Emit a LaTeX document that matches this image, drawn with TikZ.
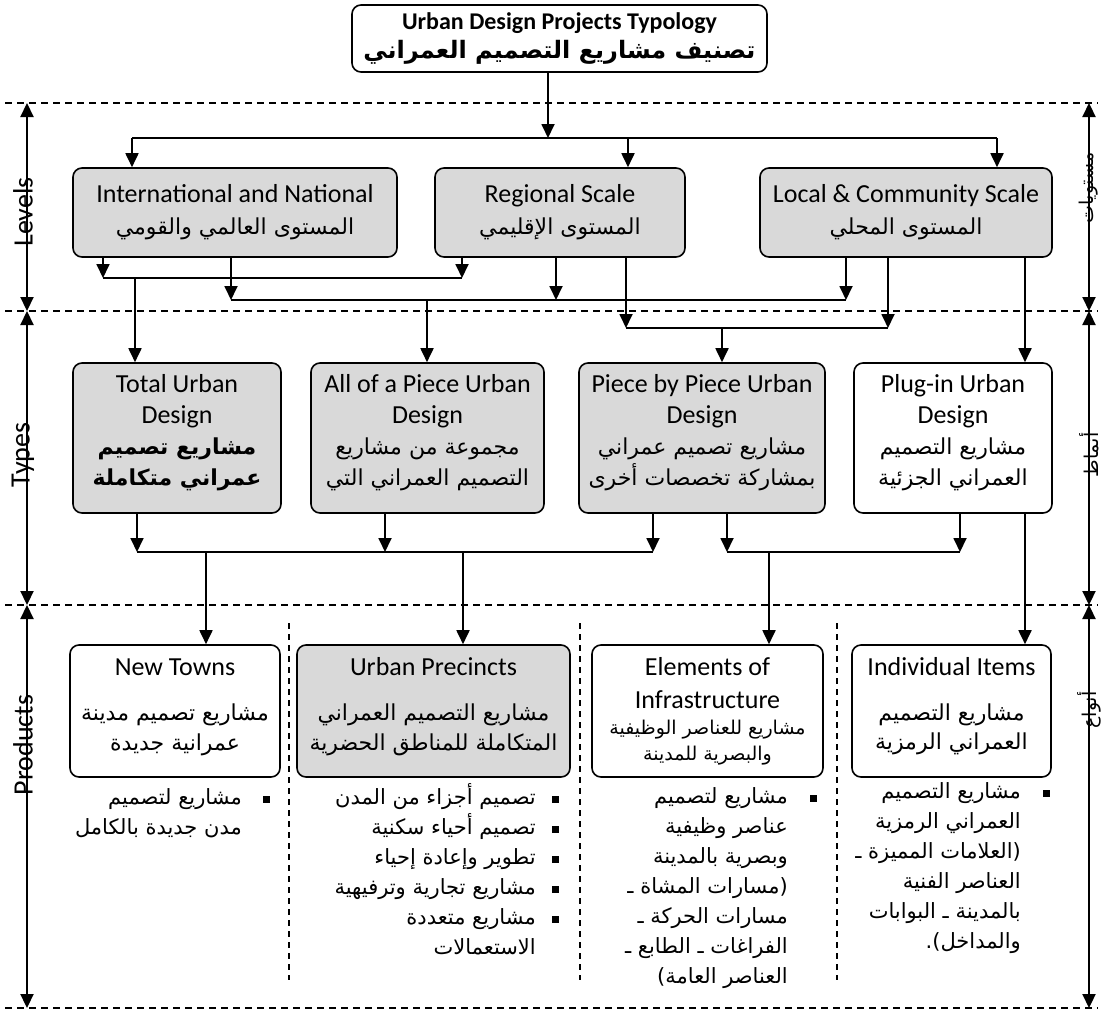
\documentclass[tikz,border=0pt]{standalone}
\usepackage{fontspec}
\setmainfont{Carlito}
\newfontfamily\arfont[Script=Arabic]{DejaVu Sans}
\TeXXeTstate=1
\usetikzlibrary{arrows.meta}
\definecolor{boxgray}{RGB}{217,217,217}
\newcommand\AR[1]{{\arfont\beginR #1\endR}}
\begin{document}
\begin{tikzpicture}[x=1pt,y=-1pt,
  box/.style={draw, line width=1.6pt, rounded corners=9pt, align=center, inner sep=0pt, font=\fontsize{26}{32}\selectfont},
  gbox/.style={box, fill=boxgray},
  arr/.style={line width=1.8pt, -{Triangle[width=13pt,length=14pt]}},
  conn/.style={line width=1.5pt},
  sep/.style={line width=1.4pt, dash pattern=on 7pt off 5pt},
  divl/.style={line width=1.3pt, dash pattern=on 6pt off 5pt},
  dbl/.style={line width=2.2pt, {Triangle[width=13pt,length=14pt]}-{Triangle[width=13pt,length=14pt]}},
  ttxt/.style={align=center, inner sep=0pt, font=\fontsize{26}{31}\selectfont},
  ptxt/.style={inner sep=0pt, font=\fontsize{26}{32}\selectfont},
  pa/.style={inner sep=0pt, font=\fontsize{22}{30}\selectfont, text height=15pt, text depth=4pt},
  bl/.style={anchor=east, inner sep=0pt, font=\fontsize{21}{30}\selectfont, text height=15pt, text depth=4pt},
  bul/.style={fill, minimum size=7pt, inner sep=0pt},
  side/.style={rotate=90, inner sep=0pt, font=\fontsize{28}{30}\selectfont},
  aside/.style={rotate=90, inner sep=0pt, font=\fontsize{19}{22}\selectfont}
]
\useasboundingbox (0,0) rectangle (1103,1012);

% separators
\draw[sep] (5,103) -- (1098,103);
\draw[sep] (5,311) -- (1098,311);
\draw[sep] (5,605) -- (1098,605);
\draw[sep] (5,1008) -- (1098,1008);

% side arrows
\draw[dbl] (27,103) -- (27,311);
\draw[dbl] (27,311) -- (27,605);
\draw[dbl] (27,605) -- (27,1008);
\draw[dbl] (1089,103) -- (1089,311);
\draw[dbl] (1089,311) -- (1089,605);
\draw[dbl] (1089,605) -- (1089,1008);
\node[side] (lLev) at (23,212) {Levels};
\node[side] (lTyp) at (23,455) {Types};
\node[side] (lPro) at (23,745) {Products};
\node[aside] (rLev) at (1089,188) {\AR{مستويات}};
\node[aside] (rTyp) at (1089,455) {\AR{أنماط}};
\node[aside] (rPro) at (1089,710) {\AR{أنواع}};

% title
\node[box, minimum width=415pt, minimum height=67pt, font=\bfseries\fontsize{24}{29}\selectfont] (title) at (559.5,38.5)
  {Urban Design Projects Typology\\ \AR{تصنيف مشاريع التصميم العمراني}};

% levels
\node[gbox, minimum width=324pt, minimum height=89pt] (intl) at (235,212.5)
  {International and National\\ \fontsize{22}{32}\selectfont\AR{المستوى العالمي والقومي}};
\node[gbox, minimum width=250pt, minimum height=89pt] (reg) at (560,212.5)
  {Regional Scale\\ \fontsize{22}{32}\selectfont\AR{المستوى الإقليمي}};
\node[gbox, minimum width=292pt, minimum height=89pt] (loc) at (906,212.5)
  {Local \& Community Scale\\ \fontsize{22}{32}\selectfont\AR{المستوى المحلي}};

% types
\node[gbox, minimum width=208pt, minimum height=150pt] (total) at (177,438) {};
\node[gbox, minimum width=233pt, minimum height=150pt] (allp) at (427.5,438) {};
\node[gbox, minimum width=246pt, minimum height=150pt] (piece) at (702,438) {};
\node[box, minimum width=198pt, minimum height=150pt] (plug) at (953,438) {};

\node[ttxt] (totalT) at (177,433)
  {Total Urban\\ Design\\ \fontsize{22}{31}\selectfont\bfseries\AR{مشاريع تصميم}\\ \fontsize{22}{31}\selectfont\bfseries\AR{عمراني متكاملة}};
\node[ttxt] (allpT) at (427.5,433)
  {All of a Piece Urban\\ Design\\ \fontsize{22}{31}\selectfont\AR{مجموعة من مشاريع}\\ \fontsize{22}{31}\selectfont\AR{التصميم العمراني التي}};
\node[ttxt] (pieceT) at (702,433)
  {Piece by Piece Urban\\ Design\\ \fontsize{22}{31}\selectfont\AR{مشاريع تصميم عمراني}\\ \fontsize{22}{31}\selectfont\AR{بمشاركة تخصصات أخرى}};
\node[ttxt] (plugT) at (953,433)
  {Plug-in Urban\\ Design\\ \fontsize{22}{31}\selectfont\AR{مشاريع التصميم}\\ \fontsize{22}{31}\selectfont\AR{العمراني  الجزئية}};

% products
\node[box, minimum width=210pt, minimum height=132pt] (nt) at (175,711) {};
\node[gbox, minimum width=273pt, minimum height=132pt] (prec) at (433.5,711) {};
\node[box, minimum width=231pt, minimum height=132pt] (elem) at (707.5,711) {};
\node[box, minimum width=199pt, minimum height=132pt] (ind) at (951.5,711) {};

\node[ptxt] (ntE) at (175,667) {New Towns};
\node[pa] (ntA1) at (175,715) {\AR{مشاريع تصميم مدينة}};
\node[pa] (ntA2) at (175,745) {\AR{عمرانية جديدة}};
\node[ptxt] (precE) at (433.5,667) {Urban Precincts};
\node[pa] (precA1) at (433.5,715) {\AR{مشاريع التصميم العمراني}};
\node[pa] (precA2) at (433.5,745) {\AR{المتكاملة للمناطق الحضرية}};
\node[ptxt] (elemE1) at (707.5,667) {Elements of};
\node[ptxt] (elemE2) at (707.5,700) {Infrastructure};
\node[pa, font=\fontsize{19}{26}\selectfont] (elemA1) at (707.5,729) {\AR{مشاريع للعناصر الوظيفية}};
\node[pa, font=\fontsize{19}{26}\selectfont] (elemA2) at (707.5,755) {\AR{والبصرية للمدينة}};
\node[ptxt] (indE) at (951.5,667) {Individual Items};
\node[pa] (indA1) at (951.5,715) {\AR{مشاريع التصميم}};
\node[pa] (indA2) at (951.5,744) {\AR{العمراني  الرمزية}};

% dividers
\draw[divl] (289,623) -- (289,980);
\draw[divl] (580,623) -- (580,980);
\draw[divl] (837,623) -- (837,980);

% bullets
\node[bul] (b11) at (266,799) {};
\node[bl] (t11) at (242,799) {\AR{مشاريع لتصميم}};
\node[bl] (t12) at (242,829) {\AR{مدن جديدة بالكامل}};

\node[bul] (b21) at (555,799) {};
\node[bul] (b22) at (555,829) {};
\node[bul] (b23) at (555,859) {};
\node[bul] (b24) at (555,889) {};
\node[bul] (b25) at (555,919) {};
\node[bl] (t21) at (536,799) {\AR{تصميم أجزاء من المدن}};
\node[bl] (t22) at (536,829) {\AR{تصميم أحياء سكنية}};
\node[bl] (t23) at (536,859) {\AR{تطوير وإعادة إحياء}};
\node[bl] (t24) at (536,889) {\AR{مشاريع تجارية وترفيهية}};
\node[bl] (t25) at (536,919) {\AR{مشاريع متعددة}};
\node[bl] (t26) at (536,949) {\AR{الاستعمالات}};

\node[bul] (b31) at (813,798) {};
\node[bl] (t31) at (788,798) {\AR{مشاريع لتصميم}};
\node[bl] (t32) at (788,828) {\AR{عناصر وظيفية}};
\node[bl] (t33) at (788,858) {\AR{وبصرية بالمدينة}};
\node[bl] (t34) at (788,888) {\AR{(مسارات المشاة ـ}};
\node[bl] (t35) at (788,918) {\AR{مسارات الحركة ـ}};
\node[bl] (t36) at (788,948) {\AR{الفراغات ـ الطابع ـ}};
\node[bl] (t37) at (788,978) {\AR{العناصر العامة)}};

\node[bul] (b41) at (1046,793) {};
\node[bl] (t41) at (1021,793) {\AR{مشاريع التصميم}};
\node[bl] (t42) at (1021,823) {\AR{العمراني الرمزية}};
\node[bl] (t43) at (1021,853) {\AR{(العلامات المميزة ـ}};
\node[bl] (t44) at (1021,883) {\AR{العناصر الفنية}};
\node[bl] (t45) at (1021,913) {\AR{بالمدينة ـ البوابات}};
\node[bl] (t46) at (1021,943) {\AR{والمداخل).}};

% connectors: title to levels
\coordinate (h1l) at (132,138);
\coordinate (h1m) at (548,138);
\coordinate (h1c) at (628,138);
\coordinate (h1r) at (997,138);
\draw[conn] (h1l) -- (h1r);
\draw[arr] (h1m |- title.south) -- (h1m);
\draw[arr] (h1l) -- (h1l |- intl.north);
\draw[arr] (h1c) -- (h1c |- reg.north);
\draw[arr] (h1r) -- (h1r |- loc.north);

% levels to types
\coordinate (aL) at (103,278);
\coordinate (aR) at (462,278);
\coordinate (aT) at (135,278);
\draw[arr] (aL |- intl.south) -- (aL);
\draw[arr] (aR |- reg.south) -- (aR);
\draw[conn] (aL) -- (aR);
\draw[arr] (aT) -- (aT |- total.north);

\coordinate (bL) at (231,300);
\coordinate (bM) at (556,300);
\coordinate (bR) at (846,300);
\coordinate (bT) at (427,300);
\draw[arr] (bL |- intl.south) -- (bL);
\draw[arr] (bM |- reg.south) -- (bM);
\draw[arr] (bR |- loc.south) -- (bR);
\draw[conn] (bL) -- (bR);
\draw[arr] (bT) -- (bT |- allp.north);

\coordinate (cL) at (626,328);
\coordinate (cR) at (888,328);
\coordinate (cT) at (722,328);
\draw[arr] (cL |- reg.south) -- (cL);
\draw[arr] (cR |- loc.south) -- (cR);
\draw[conn] (cL) -- (cR);
\draw[arr] (cT) -- (cT |- piece.north);

\coordinate (dX) at (1025,0);
\draw[arr] (dX |- loc.south) -- (dX |- plug.north);

% types to products
\coordinate (eL) at (137,552);
\coordinate (eM) at (385,552);
\coordinate (eR) at (653,552);
\coordinate (eT1) at (206,552);
\coordinate (eT2) at (463,552);
\draw[arr] (eL |- total.south) -- (eL);
\draw[arr] (eM |- allp.south) -- (eM);
\draw[arr] (eR |- piece.south) -- (eR);
\draw[conn] (eL) -- (eR);
\draw[arr] (eT1) -- (eT1 |- nt.north);
\draw[arr] (eT2) -- (eT2 |- prec.north);

\coordinate (fL) at (727,552);
\coordinate (fR) at (960,552);
\coordinate (fT) at (769,552);
\draw[arr] (fL |- piece.south) -- (fL);
\draw[arr] (fR |- plug.south) -- (fR);
\draw[conn] (fL) -- (fR);
\draw[arr] (fT) -- (fT |- elem.north);
\draw[arr] (dX |- plug.south) -- (dX |- ind.north);
\end{tikzpicture}
\end{document}
